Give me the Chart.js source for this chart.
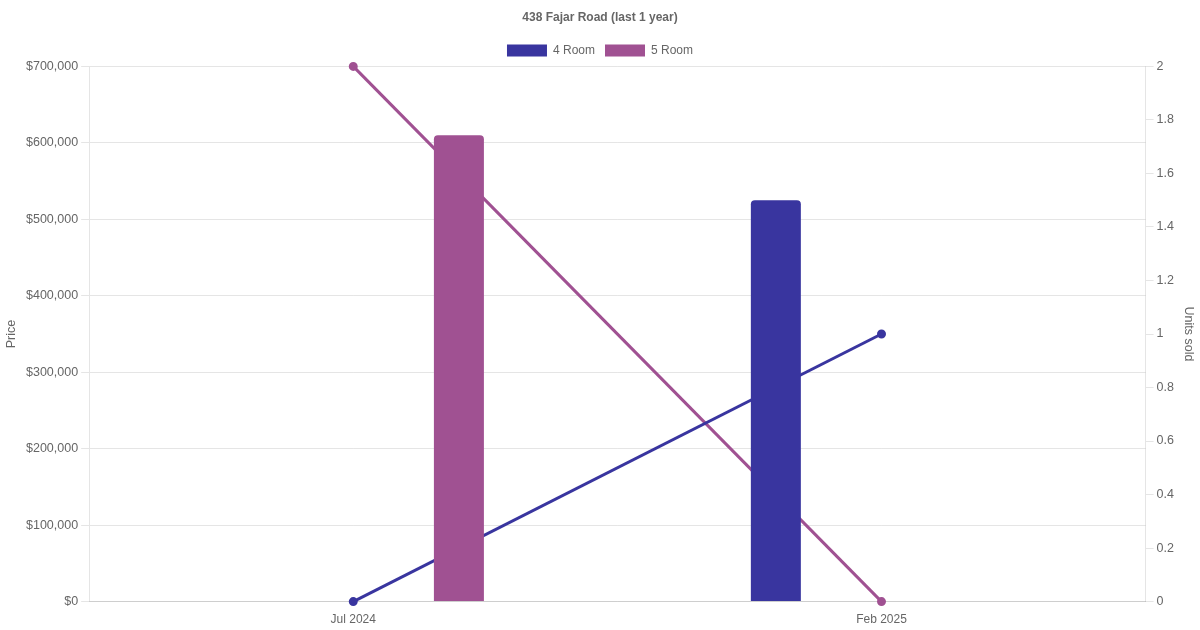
<!DOCTYPE html>
<html>
<head>
<meta charset="utf-8">
<script src="https://cdn.jsdelivr.net/npm/chart.js@4"></script>
<style>
  html, body { margin: 0; padding: 0; background: #fff; }
  #wrap { width: 1200px; height: 630px; }
</style>
</head>
<body>
<div id="wrap"><canvas id="chart"></canvas></div>
<script>
const months = ["Jul 2024", "Feb 2025"];
const price4Room = [null, 525000];
const price5Room = [610000, null];
const units4Room = [0, 1];
const units5Room = [2, 0];
const priceTicks = [0, 100000, 200000, 300000, 400000, 500000, 600000, 700000];

const COLOR_4 = "#39359f";
const COLOR_5 = "#a05192";

Chart.defaults.font.family = "'Liberation Sans', Arial, sans-serif";
Chart.defaults.color = "#666";

new Chart(document.getElementById("chart"), {
  type: "bar",
  data: {
    labels: months,
    datasets: [
      {
        label: "4 Room",
        data: price4Room,
        backgroundColor: COLOR_4,
        borderColor: COLOR_4,
        borderRadius: 4,
        maxBarThickness: 50,
        yAxisID: "y",
        order: 1
      },
      {
        label: "5 Room",
        data: price5Room,
        backgroundColor: COLOR_5,
        borderColor: COLOR_5,
        borderRadius: 4,
        maxBarThickness: 50,
        yAxisID: "y",
        order: 1
      },
      {
        type: "line",
        label: "4 Room units",
        data: units4Room,
        borderColor: COLOR_4,
        backgroundColor: COLOR_4,
        borderWidth: 3,
        pointRadius: 3,
        fill: false,
        clip: false,
        tension: 0,
        yAxisID: "y1",
        order: 2
      },
      {
        type: "line",
        label: "5 Room units",
        data: units5Room,
        borderColor: COLOR_5,
        backgroundColor: COLOR_5,
        borderWidth: 3,
        pointRadius: 3,
        fill: false,
        clip: false,
        tension: 0,
        yAxisID: "y1",
        order: 2
      }
    ]
  },
  options: {
    responsive: true,
    maintainAspectRatio: false,
    animation: false,
    plugins: {
      title: {
        display: true,
        text: "438 Fajar Road (last 1 year)",
        font: { size: 12, weight: "bold" },
        padding: { top: 10, bottom: 10 }
      },
      legend: {
        labels: {
          filter: item => item.datasetIndex < 2,
          font: { size: 12 }
        }
      }
    },
    scales: {
      x: {
        grid: { display: false },
        ticks: { font: { size: 12 } }
      },
      y: {
        position: "left",
        min: 0,
        max: 700000,
        afterBuildTicks: axis => { axis.ticks = priceTicks.map(v => ({ value: v })); },
        title: { display: true, text: "Price", font: { size: 12.5 } },
        ticks: {
          font: { size: 12.5 },
          callback: v => "$" + Number(v).toLocaleString("en-US")
        }
      },
      y1: {
        position: "right",
        min: 0,
        max: 2,
        title: { display: true, text: "Units sold", font: { size: 12.5 } },
        ticks: {
          stepSize: 0.2,
          font: { size: 12.5 },
          callback: v => String(Math.round(v * 10) / 10)
        },
        grid: { drawOnChartArea: false }
      }
    }
  }
});
</script>
</body>
</html>
